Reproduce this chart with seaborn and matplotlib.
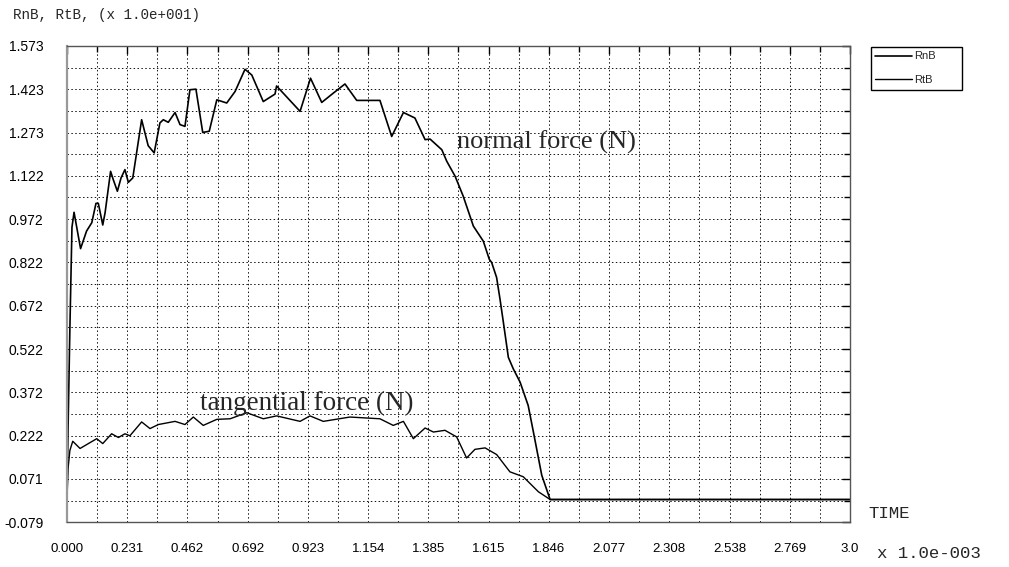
import numpy as np
import pandas as pd
import matplotlib
matplotlib.use("Agg")
import matplotlib.pyplot as plt
import seaborn as sns

# --- data (time in x 1.0e-003, force in x 1.0e+001) ---
rnb_t = [0.0, 0.004, 0.011, 0.019, 0.027, 0.052, 0.075, 0.095, 0.111, 0.120,
         0.137, 0.146, 0.167, 0.177, 0.193, 0.207, 0.222, 0.235, 0.252, 0.286,
         0.311, 0.334, 0.356, 0.369, 0.388, 0.414, 0.433, 0.452, 0.471, 0.494,
         0.520, 0.545, 0.574, 0.612, 0.644, 0.682, 0.708, 0.752, 0.797, 0.803,
         0.893, 0.933, 0.976, 1.020, 1.065, 1.110, 1.199, 1.244, 1.289, 1.333,
         1.372, 1.391, 1.436, 1.455, 1.487, 1.518, 1.557, 1.595, 1.618, 1.627,
         1.646, 1.659, 1.672, 1.691, 1.710, 1.736, 1.767, 1.787, 1.819, 1.851,
         3.0]
rnb_f = [0.0, 0.246, 0.591, 0.944, 0.996, 0.870, 0.931, 0.960, 1.027, 1.027,
         0.952, 0.995, 1.138, 1.110, 1.069, 1.115, 1.144, 1.100, 1.115, 1.317,
         1.227, 1.202, 1.306, 1.317, 1.308, 1.342, 1.300, 1.294, 1.421, 1.423,
         1.273, 1.277, 1.386, 1.375, 1.415, 1.492, 1.472, 1.380, 1.406, 1.434,
         1.346, 1.461, 1.377, 1.409, 1.441, 1.384, 1.384, 1.259, 1.342, 1.323,
         1.248, 1.250, 1.213, 1.173, 1.121, 1.052, 0.948, 0.896, 0.833, 0.822,
         0.770, 0.695, 0.614, 0.493, 0.453, 0.407, 0.326, 0.234, 0.084, 0.0,
         0.0]

rtb_t = [0.0, 0.004, 0.011, 0.022, 0.050, 0.114, 0.137, 0.171, 0.197, 0.222,
         0.241, 0.286, 0.318, 0.350, 0.414, 0.452, 0.484, 0.522, 0.574, 0.625,
         0.689, 0.752, 0.803, 0.893, 0.931, 0.982, 1.084, 1.199, 1.250, 1.289,
         1.327, 1.372, 1.404, 1.448, 1.493, 1.531, 1.563, 1.602, 1.646, 1.697,
         1.748, 1.806, 1.851, 3.0]
rtb_f = [0.0, 0.107, 0.170, 0.202, 0.177, 0.211, 0.194, 0.228, 0.215, 0.228,
         0.221, 0.269, 0.246, 0.260, 0.271, 0.260, 0.286, 0.257, 0.278, 0.280,
         0.301, 0.280, 0.290, 0.271, 0.290, 0.271, 0.286, 0.280, 0.257, 0.271,
         0.211, 0.248, 0.234, 0.240, 0.217, 0.144, 0.174, 0.179, 0.156, 0.096,
         0.079, 0.027, 0.0, 0.0]

x_tick_labels = ['0.000', '0.231', '0.462', '0.692', '0.923', '1.154', '1.385',
                 '1.615', '1.846', '2.077', '2.308', '2.538', '2.769', '3.0']
y_tick_labels = ['-0.079', '0.071', '0.222', '0.372', '0.522', '0.672', '0.822',
                 '0.972', '1.122', '1.273', '1.423', '1.573']

X_MIN, X_MAX = 0.0, 3.0
Y_MIN, Y_MAX = -0.079, 1.573

sns.set_style("white")
plt.rcParams['font.family'] = ['Liberation Sans', 'DejaVu Sans']

W, H = 1009, 567
fig = plt.figure(figsize=(W / 100, H / 100), dpi=100)
ax = fig.add_axes([67 / W, 1 - 522.3 / H, 783 / W, (522.3 - 45.9) / H])

df_n = pd.DataFrame({'t': rnb_t, 'f': rnb_f})
df_t = pd.DataFrame({'t': rtb_t, 'f': rtb_f})
sns.lineplot(data=df_n, x='t', y='f', ax=ax, color='black', lw=1.2,
             estimator=None, sort=False, label='RnB')
sns.lineplot(data=df_t, x='t', y='f', ax=ax, color='black', lw=1.0,
             estimator=None, sort=False, label='RtB')

ax.set_xlim(X_MIN, X_MAX)
ax.set_ylim(Y_MIN, Y_MAX)
ax.set_xlabel('')
ax.set_ylabel('')

# ticks and grid
ax.set_xticks(np.linspace(X_MIN, X_MAX, len(x_tick_labels)))
ax.set_xticklabels(x_tick_labels)
ax.set_xticks(np.linspace(X_MIN, X_MAX, 2 * len(x_tick_labels) - 1), minor=True)
ax.set_yticks(np.linspace(Y_MIN, Y_MAX, len(y_tick_labels)))
ax.set_yticklabels(y_tick_labels)
ax.set_yticks(np.linspace(Y_MIN, Y_MAX, 2 * len(y_tick_labels) - 1), minor=True)

ax.tick_params(which='both', direction='in', top=True, right=True,
               color='black', width=1)
ax.tick_params(which='major', length=6, labelcolor='black')
ax.tick_params(which='minor', length=4)
ax.tick_params(axis='x', which='major', pad=15, labelsize=9.5)
ax.tick_params(axis='y', which='major', pad=17, labelsize=10)

ax.grid(True, which='both', color='#111111', lw=0.7,
        linestyle=(0, (1.5, 2.5)))
for side, spine in ax.spines.items():
    spine.set_color('#555555')
    spine.set_linewidth(1)
ax.spines['left'].set_color('#999999')
ax.spines['left'].set_linewidth(1.6)

# annotations
ax.text(1.494, 1.240, 'normal force (N)', family='Liberation Serif',
        fontsize=19, ha='left', va='center')
ax.text(0.510, 0.332, 'tangential force (N)', family='Liberation Serif',
        fontsize=19.5, ha='left', va='center')

# legend outside, top right
leg = ax.legend(loc='upper left', bbox_to_anchor=(871 / W, 1 - 92 / H, 91 / W, 45 / H),
                bbox_transform=fig.transFigure, mode='expand', borderaxespad=0,
                fontsize=8, handlelength=3.3, handletextpad=0.15,
                labelspacing=1.25, fancybox=False, framealpha=1,
                edgecolor='black', borderpad=0.4)
leg.get_frame().set_linewidth(1)

# figure texts
fig.text(13 / W, 1 - 15 / H, 'RnB, RtB, (x 1.0e+001)', family='Liberation Mono',
         fontsize=10.3, va='center')
fig.text(868 / W, 1 - 513 / H, 'TIME', family='Liberation Mono',
         fontsize=12.5, va='center')
fig.text(877 / W, 1 - 554 / H, 'x 1.0e-003', family='Liberation Mono',
         fontsize=12.5, va='center')

fig.savefig('out.png', dpi=100)
